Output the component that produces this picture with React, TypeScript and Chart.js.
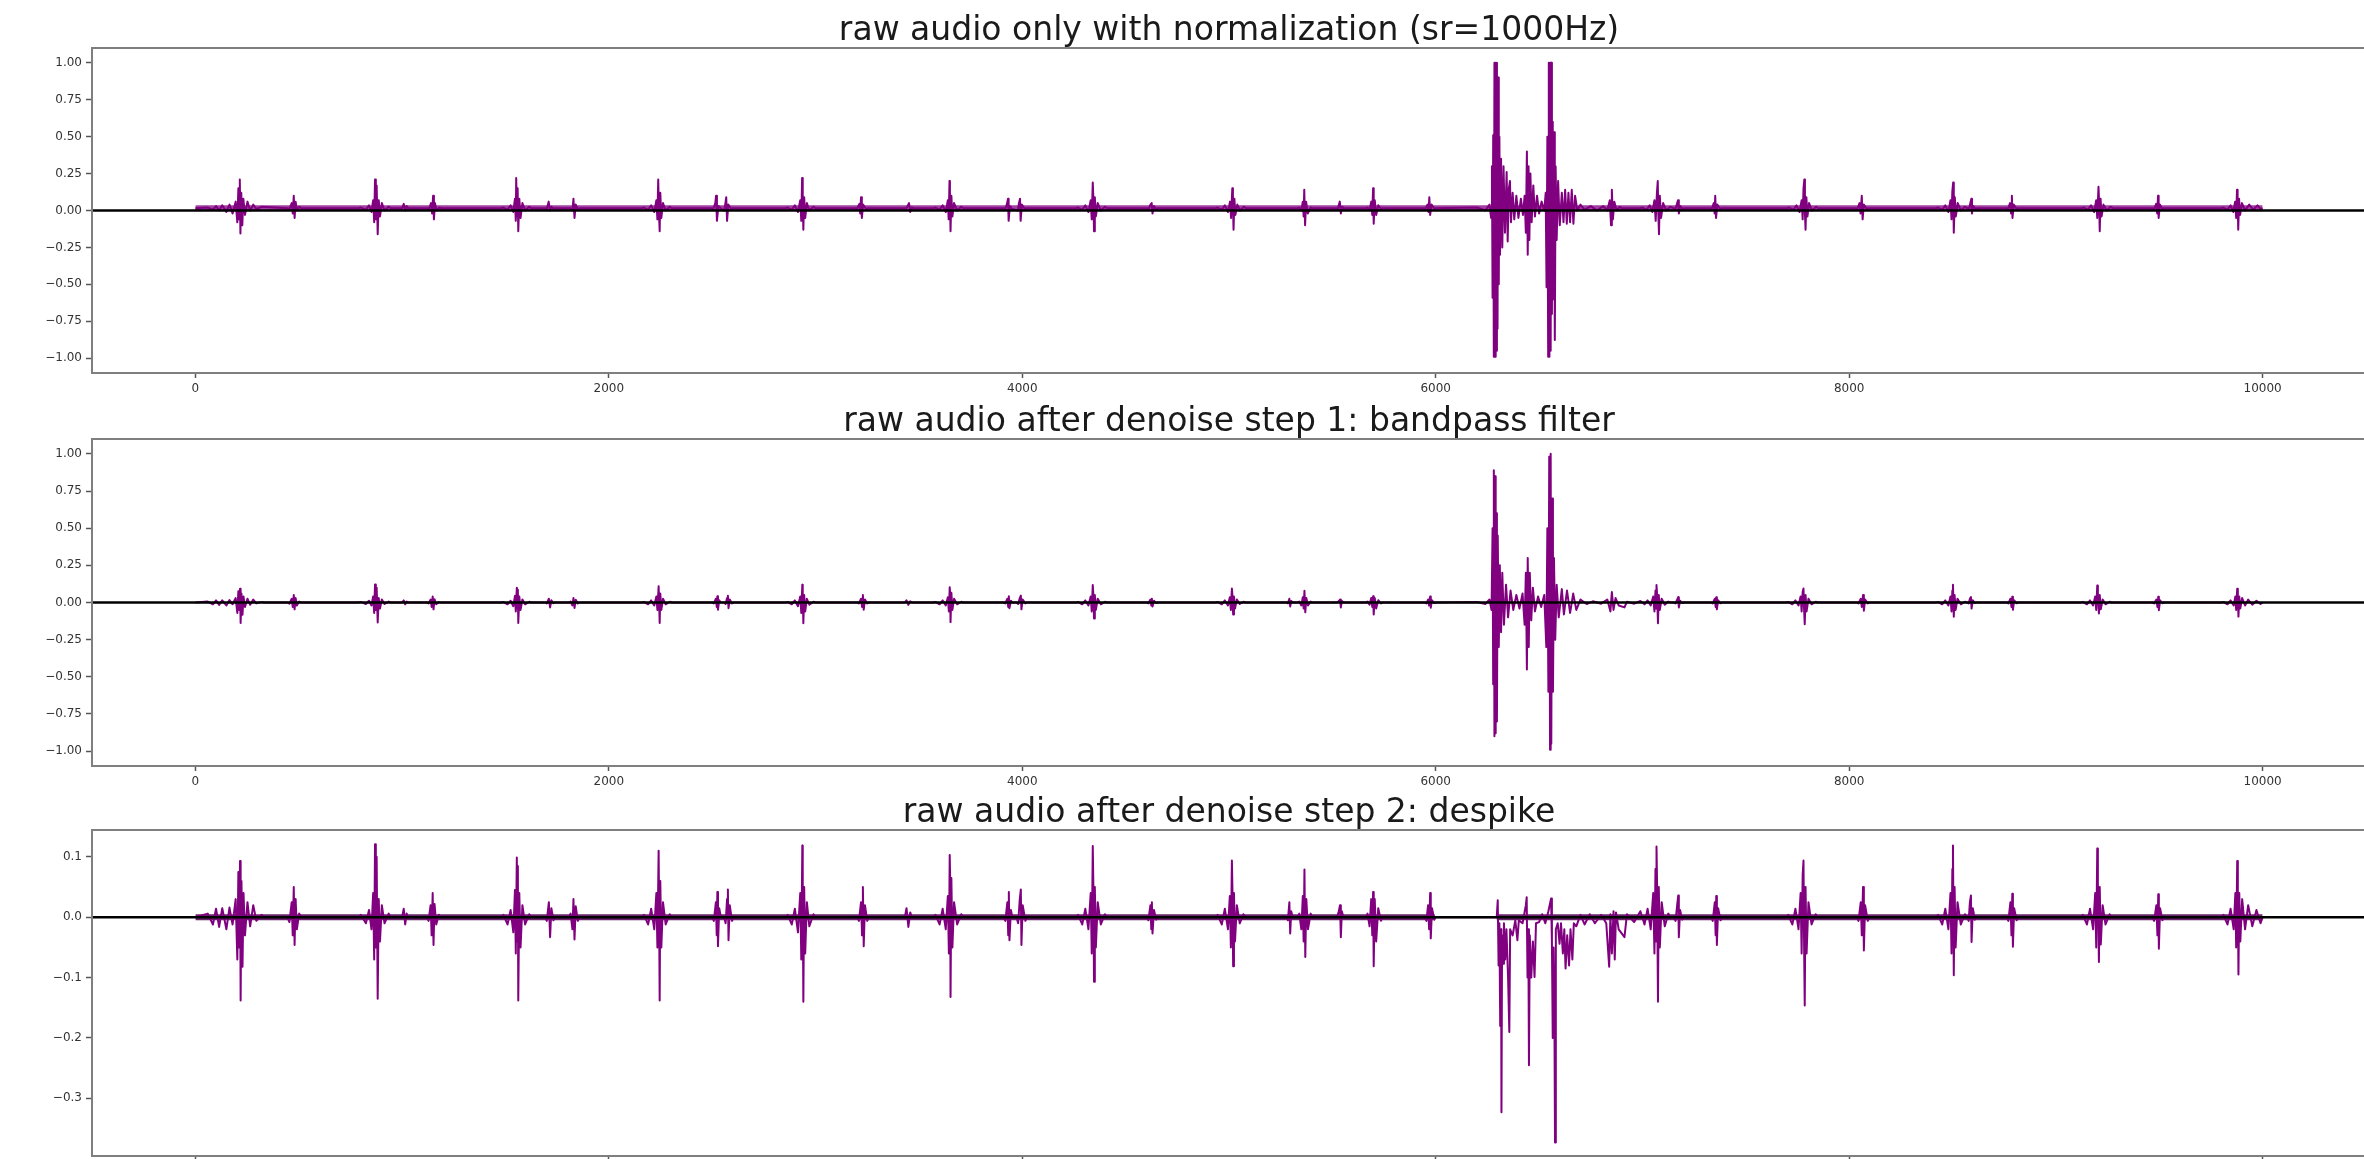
import React, { useEffect, useRef } from 'react';
import { Chart, registerables } from 'chart.js';

Chart.register(...registerables);

type Pt = [number, number];

// ---------- axis ticks ----------
const xTickValues = [0, 2000, 4000, 6000, 8000, 10000];
const xTickLabels = ['0', '2000', '4000', '6000', '8000', '10000'];
const wideYTickValues = [1, 0.75, 0.5, 0.25, 0, -0.25, -0.5, -0.75, -1];
const wideYTickLabels = ['1.00', '0.75', '0.50', '0.25', '0.00', '\u22120.25', '\u22120.50', '\u22120.75', '\u22121.00'];
const despikeYTickValues = [0.1, 0, -0.1, -0.2, -0.3];
const despikeYTickLabels = ['0.1', '0.0', '\u22120.1', '\u22120.2', '\u22120.3'];

const panelTitles = [
  'raw audio only with normalization (sr=1000Hz)',
  'raw audio after denoise step 1: bandpass filter',
  'raw audio after denoise step 2: despike',
];

// horizontal zero reference line (axhline) across the x range
const zeroLine: Pt[] = [[-500, 0], [10500, 0]];

// ---------- panel 1: raw normalized audio ----------
const rawWave: Pt[] = [
  [0, 0.015], [60, 0.02], [85, 0.005], [100, 0.03], [115, 0.0], [130, 0.035], [150, -0.01], [165, 0.04], [180, -0.02], [195, 0.06], [203, -0.08], [208, 0.15], [212, -0.06], [215, 0.21], [218, -0.155], [222, 0.12], [227, -0.1], [232, 0.08], [240, -0.03], [252, 0.06], [265, 0.0], [280, 0.04], [295, 0.01], [320, 0.025],
  [445, 0.015], [455, 0.01], [466, 0.05], [471, -0.02], [476, 0.1], [480, -0.05], [485, 0.06], [491, 0.0], [502, 0.025], [512, 0.015],
  [790, 0.015], [800, 0.02], [825, 0.005], [840, 0.035], [852, -0.01], [860, 0.07], [865, -0.08], [869, 0.21], [873, -0.06], [877, 0.17], [882, -0.16], [887, 0.07], [893, -0.04], [902, 0.05], [915, 0.0], [935, 0.025], [945, 0.015],
  [1000, 0.015], [1008, 0.045], [1015, 0.0], [1022, 0.03], [1030, 0.015],
  [1122, 0.015], [1130, 0.01], [1140, 0.05], [1145, -0.02], [1150, 0.1], [1154, -0.06], [1159, 0.05], [1167, 0.0], [1180, 0.02], [1188, 0.015],
  [1480, 0.015], [1490, 0.02], [1510, 0.005], [1525, 0.035], [1538, -0.01], [1546, 0.08], [1550, -0.07], [1552, 0.22], [1556, -0.04], [1559, 0.15], [1562, -0.14], [1567, 0.08], [1573, -0.05], [1582, 0.05], [1595, 0.0], [1615, 0.025], [1625, 0.015],
  [1692, 0.015], [1700, 0.01], [1709, 0.06], [1715, 0.0], [1722, 0.025], [1730, 0.015],
  [1808, 0.015], [1815, 0.015], [1824, 0.0], [1829, 0.08], [1834, -0.05], [1840, 0.04], [1850, 0.01], [1858, 0.015],
  [2160, 0.015], [2170, 0.02], [2190, 0.005], [2205, 0.035], [2220, -0.01], [2230, 0.07], [2235, -0.06], [2239, 0.21], [2243, -0.03], [2246, -0.14], [2249, 0.12], [2254, -0.05], [2262, 0.05], [2275, 0.0], [2295, 0.025], [2305, 0.015],
  [2498, 0.015], [2505, 0.01], [2515, 0.05], [2519, 0.1], [2523, -0.07], [2530, 0.03], [2545, 0.01],
  [2558, 0.0], [2564, 0.05], [2568, 0.09], [2572, -0.07], [2578, 0.04], [2592, 0.01], [2600, 0.015],
  [2855, 0.015], [2865, 0.02], [2885, 0.005], [2900, 0.035], [2915, -0.01], [2926, 0.07], [2931, -0.07], [2935, 0.22], [2938, 0.1], [2941, -0.13], [2945, 0.09], [2950, -0.05], [2958, 0.05], [2970, 0.0], [2990, 0.025], [3000, 0.015],
  [3192, 0.015], [3200, 0.01], [3212, 0.045], [3216, -0.02], [3220, 0.09], [3224, -0.05], [3230, 0.04], [3245, 0.01], [3253, 0.015],
  [3435, 0.015], [3442, 0.02], [3452, 0.05], [3458, -0.01], [3466, 0.02], [3474, 0.015],
  [3570, 0.015], [3580, 0.02], [3600, 0.005], [3615, 0.035], [3630, -0.01], [3640, 0.07], [3644, -0.06], [3648, 0.2], [3650, 0.1], [3653, -0.14], [3657, 0.1], [3662, -0.04], [3670, 0.05], [3685, 0.0], [3705, 0.025], [3715, 0.015],
  [3910, 0.015], [3918, 0.01], [3926, 0.045], [3931, 0.08], [3934, -0.07], [3940, 0.03], [3952, 0.01],
  [3978, 0.0], [3984, 0.05], [3989, 0.08], [3992, -0.07], [3998, 0.04], [4012, 0.01], [4020, 0.015],
  [4260, 0.015], [4270, 0.02], [4290, 0.005], [4305, 0.035], [4320, -0.01], [4331, 0.07], [4336, -0.06], [4341, 0.19], [4344, 0.08], [4347, -0.14], [4351, 0.09], [4356, -0.04], [4365, 0.05], [4380, 0.0], [4400, 0.025], [4410, 0.015],
  [4604, 0.015], [4612, 0.01], [4620, 0.04], [4626, 0.05], [4630, -0.02], [4637, 0.03], [4648, 0.01], [4656, 0.015],
  [4935, 0.015], [4945, 0.02], [4965, 0.005], [4980, 0.035], [4995, -0.01], [5005, 0.06], [5010, -0.05], [5016, 0.15], [5019, 0.06], [5022, -0.13], [5026, 0.08], [5031, -0.03], [5040, 0.04], [5054, 0.0], [5072, 0.025], [5082, 0.015],
  [5332, 0.015], [5340, 0.02], [5350, 0.0], [5357, 0.06], [5361, -0.04], [5364, 0.14], [5368, -0.1], [5373, 0.06], [5381, -0.02], [5395, 0.02], [5403, 0.015],
  [5518, 0.015], [5526, 0.01], [5536, 0.06], [5541, -0.02], [5548, 0.025], [5556, 0.015],
  [5662, 0.015], [5670, 0.02], [5680, 0.0], [5688, 0.06], [5693, -0.03], [5697, 0.15], [5700, -0.09], [5705, 0.07], [5712, -0.03], [5722, 0.035], [5735, 0.01], [5743, 0.015],
  [5942, 0.015], [5950, 0.01], [5960, 0.04], [5965, -0.01], [5969, 0.09], [5973, -0.03], [5980, 0.04], [5992, 0.015],
  [6200, 0.02], [6240, 0.0], [6260, 0.04], [6268, -0.05], [6272, 0.3], [6275, -0.59], [6278, 0.51], [6281, -0.99], [6284, 1.0], [6287, -0.99], [6290, 1.0], [6293, -0.95], [6296, 1.0], [6299, -0.8], [6302, 0.9], [6305, -0.5], [6308, 0.5], [6311, -0.3], [6316, 0.35], [6322, -0.25], [6328, 0.3], [6335, -0.15], [6343, 0.26], [6348, -0.21], [6354, 0.15], [6359, 0.2], [6364, -0.08], [6372, 0.12], [6380, -0.06], [6390, 0.1], [6400, -0.05], [6412, 0.08], [6422, -0.03],
  [6430, 0.1], [6436, -0.15], [6441, 0.4], [6445, -0.3], [6449, 0.3], [6453, -0.2], [6458, 0.25], [6464, -0.08], [6472, 0.17], [6480, -0.04], [6490, 0.1], [6500, -0.02], [6512, 0.06], [6525, 0.0],
  [6532, 0.12], [6536, -0.52], [6540, 0.5], [6544, -0.99], [6547, 1.0], [6550, -0.99], [6553, 1.0], [6556, -0.95], [6559, 1.0], [6562, -0.7], [6566, 0.6], [6570, -0.6], [6573, 0.53], [6576, -0.876], [6580, 0.3], [6585, -0.2], [6592, 0.2], [6600, -0.1], [6610, 0.12], [6618, -0.08], [6626, 0.14], [6634, -0.09], [6642, 0.12], [6650, -0.08], [6658, 0.14], [6666, -0.09], [6674, 0.1], [6685, 0.0], [6700, 0.04], [6720, 0.005], [6750, 0.03], [6780, 0.0], [6810, 0.03], [6830, 0.0],
  [6842, 0.07], [6848, -0.1], [6852, 0.14], [6857, -0.06], [6864, 0.06], [6875, 0.0], [6890, 0.025], [6900, 0.015],
  [6990, 0.015], [7000, 0.02], [7020, 0.005], [7035, 0.035], [7048, -0.01], [7058, 0.07], [7064, -0.07], [7070, 0.12], [7074, 0.2], [7077, -0.03], [7080, -0.16], [7084, 0.1], [7090, -0.05], [7100, 0.05], [7115, 0.0], [7135, 0.025],
  [7160, 0.01], [7168, 0.05], [7172, 0.07], [7176, -0.02], [7183, 0.03], [7195, 0.01], [7203, 0.015],
  [7327, 0.015], [7335, 0.01], [7345, 0.05], [7349, -0.02], [7352, 0.1], [7356, -0.05], [7362, 0.04], [7375, 0.01], [7383, 0.015],
  [7700, 0.015], [7710, 0.02], [7730, 0.005], [7745, 0.035], [7760, -0.01], [7770, 0.07], [7775, -0.06], [7779, 0.15], [7783, 0.21], [7786, -0.02], [7789, -0.13], [7793, 0.09], [7798, -0.04], [7806, 0.05], [7820, 0.0], [7840, 0.025], [7850, 0.015],
  [8032, 0.015], [8040, 0.01], [8050, 0.05], [8055, -0.02], [8061, 0.1], [8065, -0.06], [8071, 0.04], [8085, 0.01], [8093, 0.015],
  [8420, 0.015], [8430, 0.02], [8450, 0.005], [8465, 0.035], [8480, -0.01], [8490, 0.07], [8495, -0.06], [8499, 0.13], [8503, 0.19], [8505, 0.05], [8507, -0.15], [8511, 0.09], [8516, -0.04], [8525, 0.05], [8540, 0.0], [8560, 0.025],
  [8580, 0.01], [8586, 0.05], [8591, 0.08], [8594, -0.02], [8600, 0.03], [8612, 0.01], [8620, 0.015],
  [8760, 0.015], [8768, 0.01], [8778, 0.05], [8783, -0.02], [8787, 0.1], [8790, -0.05], [8796, 0.04], [8810, 0.01], [8818, 0.015],
  [9125, 0.015], [9135, 0.02], [9155, 0.005], [9170, 0.035], [9185, -0.01], [9195, 0.07], [9200, -0.05], [9206, 0.16], [9209, 0.06], [9212, -0.14], [9216, 0.08], [9221, -0.04], [9230, 0.04], [9245, 0.0], [9265, 0.025], [9275, 0.015],
  [9467, 0.015], [9475, 0.01], [9485, 0.045], [9490, -0.02], [9494, 0.1], [9497, -0.05], [9503, 0.04], [9515, 0.01], [9523, 0.015],
  [9800, 0.015], [9810, 0.02], [9830, 0.005], [9845, 0.035], [9858, -0.01], [9867, 0.06], [9872, -0.05], [9876, 0.14], [9879, 0.06], [9882, -0.13], [9886, 0.08], [9891, -0.03], [9900, 0.05], [9915, 0.0], [9935, 0.04], [9955, 0.005], [9975, 0.035], [9990, 0.01], [10000, 0.015],
];
const rawNoiseBand: Pt[] = [[0, 0.035], [10000, 0.035]];

// ---------- panels 2 & 3: heart-beat bursts shared by both filtered signals ----------
const beatsEarly: Pt[] = [
  [0, 0], [60, 0.006], [85, -0.012], [100, 0.014], [115, -0.016], [130, 0.015], [150, -0.02], [165, 0.016], [180, -0.012], [195, 0.03], [203, -0.07], [208, 0.075], [212, -0.05], [216, 0.093], [219, -0.138], [223, 0.06], [228, -0.082], [233, 0.04], [240, -0.03], [252, 0.025], [265, -0.015], [280, 0.02], [295, -0.006], [320, 0.004], [335, 0],
  [445, 0], [455, -0.008], [466, 0.025], [471, -0.03], [476, 0.05], [480, -0.046], [485, 0.03], [491, -0.02], [502, 0.006], [512, 0],
  [790, 0], [800, 0.004], [825, -0.01], [840, 0.012], [852, -0.02], [860, 0.04], [865, -0.07], [869, 0.121], [873, -0.05], [877, 0.1], [882, -0.135], [887, 0.03], [893, -0.04], [902, 0.02], [915, -0.01], [935, 0.006], [945, 0],
  [1000, 0], [1008, 0.014], [1015, -0.012], [1022, 0.006], [1030, 0],
  [1120, 0], [1128, -0.006], [1138, 0.02], [1143, -0.03], [1148, 0.04], [1152, -0.046], [1157, 0.022], [1165, -0.012], [1178, 0.004], [1186, 0],
  [1480, 0], [1490, 0.004], [1510, -0.012], [1525, 0.012], [1538, -0.025], [1546, 0.045], [1550, -0.06], [1555, 0.099], [1558, -0.04], [1560, 0.085], [1562, -0.138], [1567, 0.04], [1573, -0.05], [1582, 0.02], [1595, -0.012], [1615, 0.005], [1625, 0],
  [1692, 0], [1700, -0.006], [1710, 0.025], [1716, -0.033], [1722, 0.015], [1732, -0.005], [1740, 0],
  [1808, 0], [1815, 0.006], [1824, -0.02], [1829, 0.03], [1834, -0.037], [1840, 0.018], [1850, -0.006], [1858, 0],
  [2160, 0], [2170, 0.004], [2190, -0.012], [2205, 0.014], [2220, -0.02], [2230, 0.04], [2235, -0.05], [2241, 0.11], [2244, -0.03], [2246, -0.138], [2249, 0.06], [2254, -0.05], [2262, 0.025], [2275, -0.012], [2295, 0.005], [2305, 0],
  [2500, 0], [2508, -0.006], [2518, 0.025], [2522, -0.03], [2525, 0.042], [2528, -0.048], [2534, 0.015], [2542, 0],
  [2558, 0], [2565, -0.01], [2572, 0.03], [2576, 0.046], [2579, -0.038], [2585, 0.02], [2596, -0.006], [2604, 0],
  [2855, 0], [2865, 0.004], [2885, -0.012], [2900, 0.014], [2915, -0.025], [2926, 0.04], [2931, -0.07], [2936, 0.119], [2938, 0.06], [2941, -0.14], [2945, 0.05], [2950, -0.06], [2958, 0.025], [2970, -0.015], [2990, 0.005], [3000, 0],
  [3202, 0], [3210, -0.006], [3220, 0.025], [3225, -0.03], [3229, 0.05], [3233, -0.048], [3239, 0.02], [3250, -0.006], [3258, 0],
  [3432, 0], [3440, 0.015], [3449, -0.016], [3458, 0.008], [3466, 0],
  [3570, 0], [3580, 0.004], [3600, -0.012], [3615, 0.014], [3630, -0.02], [3640, 0.035], [3645, -0.06], [3649, 0.103], [3651, 0.065], [3653, -0.132], [3657, 0.065], [3662, -0.05], [3670, 0.025], [3685, -0.012], [3705, 0.005], [3715, 0],
  [3910, 0], [3918, -0.006], [3928, 0.025], [3932, -0.03], [3935, 0.042], [3938, -0.038], [3945, 0.012], [3952, 0],
  [3972, 0], [3980, -0.01], [3988, 0.03], [3993, 0.046], [3996, -0.046], [4002, 0.02], [4015, -0.006], [4023, 0],
  [4260, 0], [4270, 0.004], [4290, -0.012], [4305, 0.014], [4320, -0.02], [4331, 0.04], [4336, -0.06], [4341, 0.118], [4344, 0.05], [4347, -0.107], [4351, 0.05], [4356, -0.05], [4365, 0.025], [4380, -0.012], [4400, 0.005], [4410, 0],
  [4602, 0], [4610, -0.005], [4620, 0.02], [4624, -0.02], [4627, 0.025], [4630, -0.027], [4637, 0.012], [4648, -0.004], [4656, 0],
  [4935, 0], [4945, 0.004], [4965, -0.012], [4980, 0.014], [4995, -0.02], [5004, 0.035], [5009, -0.05], [5014, 0.094], [5017, 0.04], [5020, -0.081], [5024, 0.04], [5029, -0.04], [5038, 0.02], [5052, -0.01], [5070, 0.005], [5080, 0],
  [5278, 0], [5285, -0.005], [5292, 0.025], [5296, -0.027], [5301, 0.01], [5308, 0],
  [5332, 0], [5340, 0.006], [5350, -0.02], [5357, 0.035], [5361, -0.04], [5365, 0.079], [5369, -0.066], [5374, 0.03], [5382, -0.02], [5395, 0.006], [5403, 0],
  [5522, 0], [5530, 0.008], [5537, 0.02], [5541, -0.033], [5546, 0.01], [5553, 0],
  [5662, 0], [5670, 0.006], [5680, -0.015], [5688, 0.03], [5693, -0.03], [5697, 0.042], [5700, -0.081], [5705, 0.03], [5712, -0.04], [5722, 0.015], [5735, -0.006], [5743, 0],
  [5947, 0], [5955, -0.006], [5963, 0.02], [5968, -0.02], [5973, 0.04], [5976, -0.035], [5982, 0.015], [5993, -0.004], [6000, 0],
];

const beatsLate: Pt[] = [
  [6913, -0.033], [6925, 0.005], [6960, -0.008], [6990, 0.01], [7010, -0.012], [7025, 0.014], [7040, -0.02], [7052, 0.04], [7058, -0.06], [7063, 0.08], [7066, -0.04], [7068, 0.117], [7071, 0.05], [7075, -0.14], [7079, 0.05], [7084, -0.05], [7093, 0.025], [7108, -0.015], [7125, 0.006], [7135, 0],
  [7152, 0], [7160, -0.006], [7168, 0.02], [7173, 0.036], [7176, -0.033], [7182, 0.012], [7192, -0.004], [7200, 0],
  [7332, 0], [7340, -0.006], [7350, 0.025], [7354, -0.03], [7357, 0.035], [7360, -0.046], [7366, 0.015], [7378, -0.005], [7386, 0],
  [7695, 0], [7705, 0.004], [7725, -0.012], [7740, 0.014], [7755, -0.02], [7765, 0.04], [7770, -0.06], [7775, 0.07], [7779, 0.094], [7782, -0.05], [7785, -0.146], [7789, 0.05], [7794, -0.06], [7803, 0.025], [7818, -0.012], [7838, 0.005], [7848, 0],
  [8037, 0], [8045, -0.006], [8056, 0.025], [8061, -0.03], [8067, 0.05], [8071, -0.055], [8077, 0.02], [8090, -0.006], [8098, 0],
  [8420, 0], [8430, 0.004], [8450, -0.012], [8465, 0.014], [8480, -0.02], [8490, 0.04], [8495, -0.06], [8499, 0.08], [8502, 0.119], [8504, 0.02], [8506, -0.096], [8510, 0.05], [8515, -0.05], [8524, 0.025], [8540, -0.012], [8560, 0.005], [8570, 0],
  [8578, -0.006], [8584, 0.025], [8589, 0.036], [8592, -0.041], [8598, 0.015], [8608, -0.004], [8616, 0],
  [8762, 0], [8770, -0.006], [8780, 0.025], [8785, -0.03], [8789, 0.039], [8792, -0.049], [8798, 0.015], [8810, -0.005], [8818, 0],
  [9120, 0], [9130, 0.004], [9150, -0.012], [9165, 0.014], [9180, -0.02], [9190, 0.04], [9195, -0.05], [9200, 0.114], [9203, 0.05], [9208, -0.074], [9212, 0.05], [9217, -0.045], [9226, 0.02], [9240, -0.012], [9260, 0.005], [9270, 0],
  [9467, 0], [9475, -0.006], [9486, 0.02], [9491, -0.03], [9495, 0.038], [9498, -0.052], [9504, 0.015], [9515, -0.005], [9523, 0],
  [9800, 0], [9810, 0.004], [9830, -0.012], [9845, 0.014], [9860, -0.02], [9868, 0.04], [9872, -0.05], [9877, 0.093], [9880, 0.04], [9883, -0.095], [9887, 0.04], [9892, -0.04], [9901, 0.03], [9915, -0.02], [9930, 0.02], [9950, -0.015], [9970, 0.012], [9990, -0.01], [10000, 0],
];

// ---------- panel 2: loud section after bandpass filter ----------
const bandpassLoudSection: Pt[] = [
  [6200, 0.004], [6240, -0.01], [6260, 0.02], [6270, -0.05], [6275, 0.5], [6278, -0.55], [6281, 0.89], [6284, -0.9], [6287, 0.85], [6290, -0.88], [6293, 0.6], [6296, -0.8], [6300, 0.45], [6305, -0.3], [6310, 0.25], [6316, -0.2], [6322, 0.2], [6330, -0.15], [6340, 0.12], [6350, -0.1], [6362, 0.08], [6375, -0.05], [6390, 0.05], [6405, -0.04],
  [6420, 0.06], [6430, -0.15], [6436, 0.2], [6441, -0.45], [6445, 0.3], [6450, -0.3], [6455, 0.2], [6462, -0.12], [6470, 0.1], [6480, -0.06], [6495, 0.04], [6510, -0.03], [6525, 0.05],
  [6535, -0.3], [6540, 0.5], [6545, -0.6], [6549, 0.98], [6553, -0.99], [6556, 1.0], [6559, -0.95], [6563, 0.7], [6567, -0.6], [6572, 0.3], [6578, -0.25], [6585, 0.12], [6595, -0.1], [6610, 0.09], [6620, -0.08], [6635, 0.08], [6650, -0.07], [6665, 0.06], [6680, -0.05], [6700, 0.02], [6730, -0.01], [6760, 0.008], [6800, -0.008],
  [6830, 0.02], [6845, -0.06], [6852, 0.07], [6860, -0.05], [6870, 0.03], [6885, -0.02],
];

// ---------- panel 3: loud section after despike ----------
const despikeLoudSection: Pt[] = [
  [6295, 0], [6300, 0.028], [6304, -0.08], [6308, -0.01], [6312, -0.18], [6316, -0.02], [6318, -0.323], [6321, -0.03], [6326, -0.077], [6330, -0.01], [6336, -0.07], [6342, -0.02], [6350, -0.1], [6356, -0.19], [6360, -0.02], [6372, -0.03], [6385, -0.005], [6395, -0.038], [6402, -0.005], [6420, -0.01],
  [6436, 0.02], [6440, 0.033], [6444, -0.1], [6448, -0.02], [6451, -0.245], [6455, -0.03], [6462, -0.1], [6470, -0.04], [6478, -0.099], [6485, -0.01], [6500, -0.008], [6515, 0.005], [6530, -0.01], [6545, 0.01],
  [6558, 0.031], [6562, -0.04], [6566, -0.2], [6570, -0.05], [6574, -0.15], [6577, -0.373], [6581, -0.02], [6590, -0.01], [6599, -0.044], [6606, -0.01], [6615, -0.06], [6622, -0.02], [6628, -0.085], [6636, -0.03], [6645, -0.08], [6652, -0.02], [6661, -0.07], [6668, -0.01], [6680, -0.015],
  [6700, 0.004], [6720, -0.012], [6745, 0.005], [6770, -0.01], [6800, 0.004], [6825, -0.01], [6839, -0.082], [6845, 0.005], [6852, -0.06], [6860, 0.01], [6866, -0.07], [6872, 0.008], [6885, -0.02],
];

const bandpassWave: Pt[] = [...beatsEarly, ...bandpassLoudSection, ...beatsLate];
const despikeWave: Pt[] = [...beatsEarly, ...despikeLoudSection, ...beatsLate];

const bandpassNoiseUpper: Pt[] = [[0, 0.004], [10000, 0.004]];
const bandpassNoiseLower: Pt[] = [[0, -0.004], [10000, -0.004]];
const despikeNoiseUpper: Pt[] = [[0, 0.005], [5995, 0.005], [5995, 0], [6295, 0], [6295, 0.005], [10000, 0.005]];
const despikeNoiseLower: Pt[] = [[0, -0.005], [5995, -0.005], [5995, 0], [6295, 0], [6295, -0.005], [10000, -0.005]];

// ---------- rendering ----------
const PURPLE = '#800080';
const TICK_FONT = { family: 'DejaVu Sans', size: 12 };

const framePlugin = {
  id: 'frame',
  afterDraw(chart: any) {
    const { ctx, chartArea } = chart;
    const { left, top, right, bottom } = chartArea;
    ctx.save();
    ctx.strokeStyle = '#7f7f7f';
    ctx.lineWidth = 2;
    ctx.strokeRect(left, top, right - left, bottom - top);
    ctx.restore();
  },
};

interface PanelProps {
  top: number;
  height: number;
  title: string;
  titlePadTop: number;
  wave: Pt[];
  bands: { data: Pt[]; color: string }[];
  yMin: number;
  yMax: number;
  yTicks: number[];
  yLabels: string[];
}

function Panel({ top, height, title, titlePadTop, wave, bands, yMin, yMax, yTicks, yLabels }: PanelProps) {
  const ref = useRef<HTMLCanvasElement>(null);
  useEffect(() => {
    const canvas = ref.current!;
    const datasets: any[] = [
      { data: zeroLine, borderColor: '#000000', borderWidth: 2.5, pointRadius: 0, fill: false },
      {
        data: wave,
        borderColor: PURPLE,
        borderWidth: 2,
        pointRadius: 0,
        fill: false,
        tension: 0,
        borderJoinStyle: 'round',
      },
      ...bands.map((b) => ({
        data: b.data,
        borderWidth: 0,
        borderColor: 'rgba(0,0,0,0)',
        backgroundColor: b.color,
        pointRadius: 0,
        fill: 'origin',
      })),
    ];
    const chart = new Chart(canvas, {
      type: 'line',
      data: { datasets },
      options: {
        responsive: false,
        animation: false,
        events: [],
        layout: { padding: 0 },
        plugins: {
          legend: { display: false },
          tooltip: { enabled: false },
          title: {
            display: true,
            text: title,
            fullSize: false,
            color: '#1a1a1a',
            font: { family: 'DejaVu Sans', size: 33, weight: 'normal', lineHeight: 1 },
            padding: { top: titlePadTop, bottom: 15 - titlePadTop },
          },
        },
        scales: {
          x: {
            type: 'linear',
            min: -500,
            max: 10500,
            afterBuildTicks: (axis: any) => {
              axis.ticks = xTickValues.map((v) => ({ value: v }));
            },
            afterFit: (axis: any) => {
              axis.height = 30;
            },
            ticks: {
              autoSkip: false,
              maxRotation: 0,
              padding: 4,
              color: '#333333',
              font: TICK_FONT,
              callback: (v: any) => {
                const i = xTickValues.indexOf(Number(v));
                return i >= 0 ? xTickLabels[i] : '';
              },
            },
            grid: { drawOnChartArea: false, drawTicks: true, tickLength: 5, tickColor: '#555555', tickWidth: 1.5 },
            border: { display: false },
          },
          y: {
            type: 'linear',
            min: yMin,
            max: yMax,
            afterBuildTicks: (axis: any) => {
              axis.ticks = yTicks.map((v) => ({ value: v }));
            },
            afterFit: (axis: any) => {
              axis.width = 92;
            },
            ticks: {
              autoSkip: false,
              padding: 4,
              color: '#333333',
              font: TICK_FONT,
              callback: (v: any) => {
                const i = yTicks.indexOf(Number(v));
                return i >= 0 ? yLabels[i] : '';
              },
            },
            grid: { drawOnChartArea: false, drawTicks: true, tickLength: 6, tickColor: '#555555', tickWidth: 1.5 },
            border: { display: false },
          },
        },
      } as any,
      plugins: [framePlugin],
    });
    return () => chart.destroy();
  }, []);
  return (
    <canvas
      ref={ref}
      width={2366}
      height={height}
      style={{ position: 'absolute', left: 0, top, width: 2366, height }}
    />
  );
}

export default function App() {
  return (
    <div
      style={{
        position: 'fixed',
        left: 0,
        top: 0,
        width: 2364,
        height: 1159,
        overflow: 'hidden',
        background: '#ffffff',
      }}
    >
      <Panel
        top={0}
        height={403}
        title={panelTitles[0]}
        titlePadTop={15}
        wave={rawWave}
        bands={[{ data: rawNoiseBand, color: 'rgba(128,0,128,0.75)' }]}
        yMin={-1.1}
        yMax={1.1}
        yTicks={wideYTickValues}
        yLabels={wideYTickLabels}
      />
      <Panel
        top={391}
        height={405}
        title={panelTitles[1]}
        titlePadTop={15}
        wave={bandpassWave}
        bands={[
          { data: bandpassNoiseUpper, color: 'rgba(80,0,80,0.8)' },
          { data: bandpassNoiseLower, color: 'rgba(80,0,80,0.8)' },
        ]}
        yMin={-1.1}
        yMax={1.1}
        yTicks={wideYTickValues}
        yLabels={wideYTickLabels}
      />
      <Panel
        top={782}
        height={404}
        title={panelTitles[2]}
        titlePadTop={15}
        wave={despikeWave}
        bands={[
          { data: despikeNoiseUpper, color: 'rgba(80,0,80,0.85)' },
          { data: despikeNoiseLower, color: 'rgba(80,0,80,0.85)' },
        ]}
        yMin={-0.3955}
        yMax={0.1445}
        yTicks={despikeYTickValues}
        yLabels={despikeYTickLabels}
      />
    </div>
  );
}
